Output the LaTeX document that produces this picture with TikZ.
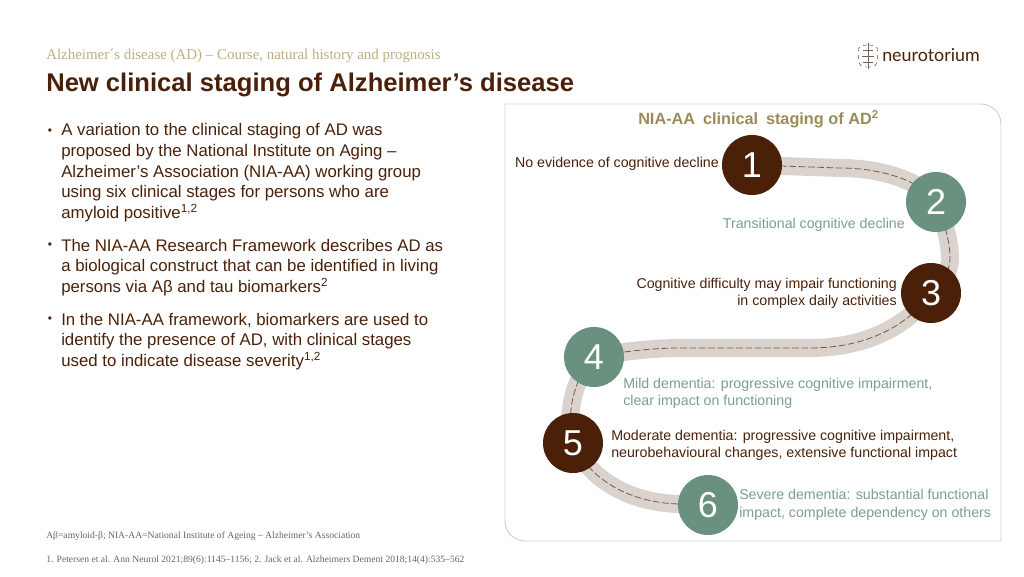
\documentclass[tikz,border=0pt]{standalone}
\usepackage{fontspec}
\setmainfont{Liberation Sans}
\newfontfamily\serifface{Liberation Serif}
\newfontfamily\logoface{Lato}
\usetikzlibrary{backgrounds}
\definecolor{darkbrown}{HTML}{4A2108}
\definecolor{stageteal}{HTML}{6A9080}
\definecolor{textteal}{HTML}{7A9E90}
\definecolor{gold}{HTML}{9A8B58}
\definecolor{palegold}{HTML}{BDAE80}
\definecolor{bandgrey}{HTML}{DAD3CD}
\definecolor{boxline}{HTML}{C6D2CF}
\definecolor{footgrey}{HTML}{6E6259}
\tikzset{
  stagedark/.style={circle,fill=darkbrown,minimum size=60*0.75pt,inner sep=0pt,text=white,font=\fontsize{27}{27}\selectfont},
  stagelight/.style={circle,fill=stageteal,minimum size=60*0.75pt,inner sep=0pt,text=white,font=\fontsize{27}{27}\selectfont},
  band/.style={line width=18*0.75pt,color=bandgrey},
  thread/.style={line width=0.6pt,color=darkbrown!75,dash pattern=on 5pt off 2pt},
  bodytext/.style={anchor=north west,align=left,inner sep=0pt,text=darkbrown,font=\fontsize{12.6}{15.4}\selectfont},
  bullet/.style={anchor=north west,inner sep=0pt,text=darkbrown,font=\fontsize{9}{10}\selectfont},
  darklabel/.style={inner sep=0pt,text=darkbrown,font=\fontsize{10.65}{13.1}\selectfont},
  teallabel/.style={inner sep=0pt,text=textteal,font=\fontsize{10.65}{13.1}\selectfont},
  footnote/.style={anchor=west,inner sep=0pt,text=footgrey,font=\serifface\fontsize{7.2}{8}\selectfont},
  brainline/.style={line width=0.45pt,color=footgrey}
}
\begin{document}
\begin{tikzpicture}[x=0.75pt,y=-0.75pt]
  \useasboundingbox (0,0) rectangle (1024,576);
  % header
  \node[anchor=west,inner sep=0pt,text=palegold,font=\serifface\fontsize{11.2}{12}\selectfont] (subtitle) at (46,55.5) {Alzheimer´s disease (AD) – Course, natural history and prognosis};
  \node[anchor=west,inner sep=0pt,text=darkbrown,font=\bfseries\fontsize{19.2}{22}\selectfont] (title) at (46,84.5) {New clinical staging of Alzheimer’s disease};
  % logo
  \node[anchor=west,inner sep=0pt,text=darkbrown,font=\logoface\fontsize{13.4}{14}\selectfont] (logo) at (882,55) {neurotorium};
  \draw[brainline,dashed,rounded corners=2pt] (867,45) -- (859,46) -- (858,56) -- (860,66) -- (867,67);
  \draw[brainline,dashed,rounded corners=2pt] (869,45) -- (877,46) -- (878,56) -- (876,66) -- (869,67);
  \draw[brainline] (868,43) -- (868,69);
  \draw[brainline] (863,50) -- (873,50);
  \draw[brainline] (862,56) -- (874,56);
  \draw[brainline] (863,62) -- (873,62);
  % left text
  \node[bullet] (b1) at (47.5,129) {•};
  \node[bodytext] (para1) at (61,123.5) {A variation to the clinical staging of AD was\\proposed by the National Institute on Aging –\\Alzheimer’s Association (NIA-AA) working group\\using six clinical stages for persons who are\\amyloid positive\textsuperscript{1,2}};
  \node[bullet] (b2) at (47.5,243) {•};
  \node[bodytext] (para2) at (61,239) {The NIA-AA Research Framework describes AD as\\a biological construct that can be identified in living\\persons via Aβ and tau biomarkers\textsuperscript{2}};
  \node[bullet] (b3) at (47.5,317) {•};
  \node[bodytext] (para3) at (61,313) {In the NIA-AA framework, biomarkers are used to\\identify the presence of AD, with clinical stages\\used to indicate disease severity\textsuperscript{1,2}};
  \node[footnote] (abbr) at (46,536.5) {Aβ=amyloid-β; NIA-AA=National Institute of Ageing – Alzheimer’s Association};
  \node[footnote] (refs) at (46,560) {1. Petersen et al. Ann Neurol 2021;89(6):1145–1156; 2. Jack et al. Alzheimers Dement 2018;14(4):535–562};
  % panel
  \draw[boxline,line width=0.7pt] (505,104) -- (981,104) arc[start angle=-90,end angle=0,radius=20] -- (1001,541) -- (525,541) arc[start angle=90,end angle=180,radius=20] -- cycle;
  \node[inner sep=0pt,text=gold,font=\bfseries\fontsize{12.2}{14}\selectfont] (head) at (758.5,119) {NIA-AA\hspace{2.5pt} clinical\hspace{2.5pt} staging of AD\textsuperscript{2}};
  % stages
  \node[stagedark] (s1) at (752,165) {1};
  \node[stagelight] (s2) at (936,202) {2};
  \node[stagedark] (s3) at (931,293) {3};
  \node[stagelight] (s4) at (594,357) {4};
  \node[stagedark] (s5) at (573,443) {5};
  \node[stagelight] (s6) at (708,505) {6};
  \begin{pgfonlayer}{background}
    \foreach \look in {band,thread}{
      \draw[\look] (s1.center) -- (840,168) .. controls (880,168) and (920,180) .. (s2.center);
      \draw[\look] (s2.center) .. controls (946,225) and (950,245) .. (950,258) .. controls (950,272) and (942,285) .. (s3.center);
      \draw[\look] (s3.center) .. controls (905,330) and (860,348) .. (810,348) -- (680,348) .. controls (650,348) and (620,352) .. (s4.center);
      \draw[\look] (s4.center) .. controls (578,376) and (565,402) .. (s5.center);
      \draw[\look] (s5.center) .. controls (590,480) and (630,503) .. (680,504) -- (s6.center);
    }
  \end{pgfonlayer}
  % stage labels
  \node[darklabel,anchor=east] (t1) at (719,164) {No evidence of cognitive decline};
  \node[teallabel,anchor=east] (t2) at (905,225) {Transitional cognitive decline};
  \node[darklabel,anchor=east,align=right] (t3) at (897,293.5) {Cognitive difficulty may impair functioning\\in complex daily activities};
  \node[teallabel,anchor=west,align=left] (t4) at (623,393.5) {Mild dementia: progressive cognitive impairment,\\clear impact on functioning};
  \node[darklabel,anchor=west,align=left] (t5) at (611,445.5) {Moderate dementia: progressive cognitive impairment,\\neurobehavioural changes, extensive functional impact};
  \node[teallabel,anchor=west,align=left] (t6) at (739,505) {Severe dementia: substantial functional\\impact, complete dependency on others};
\end{tikzpicture}
\end{document}
